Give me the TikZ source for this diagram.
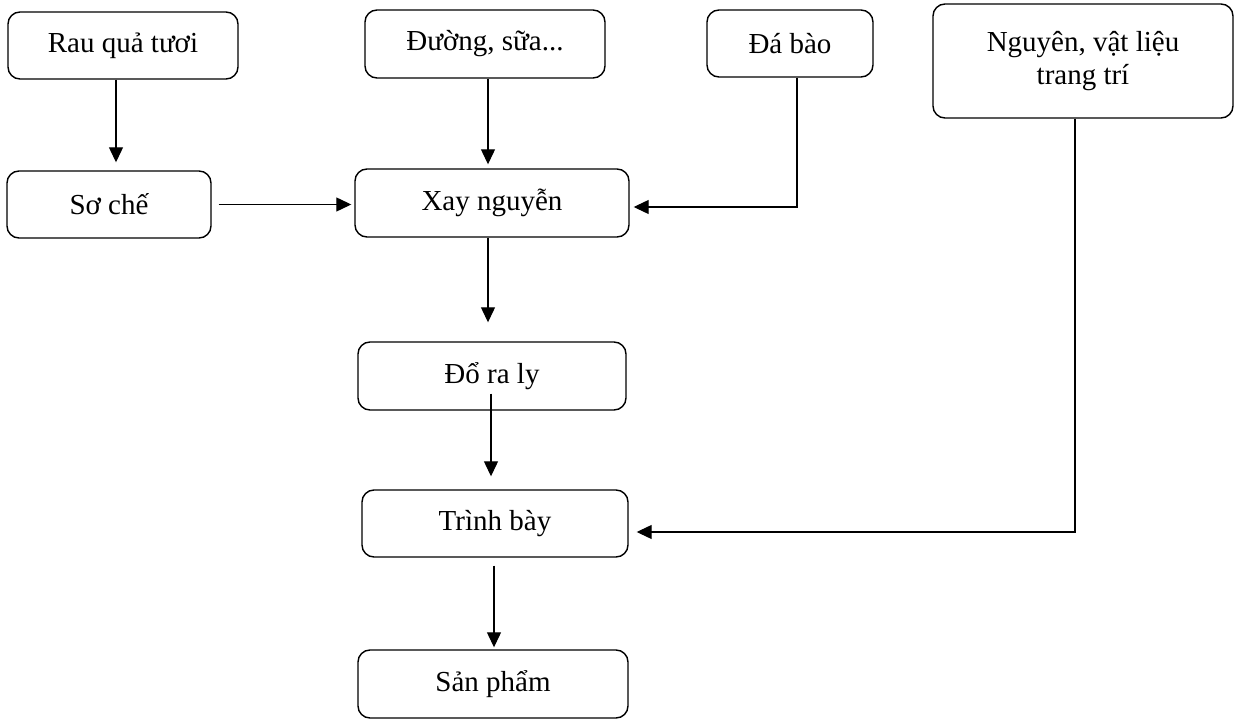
\documentclass[tikz,border=0pt]{standalone}
\usepackage{fontspec}
\setmainfont{Liberation Serif}
\usetikzlibrary{arrows.meta}

\begin{document}
\begin{tikzpicture}[x=0.2mm,y=-0.2mm,>={Triangle[length=3mm,width=2.8mm]},
  box/.style={draw,line width=0.8pt,rounded corners=2.4mm,align=center,
    font=\fontsize{16.5}{19}\selectfont},
  conn/.style={line width=0.7pt}]

\useasboundingbox (0,0) rectangle (1235,720);

% hang tren
\node[box,minimum width=46mm,minimum height=13.4mm] (rau) at (123,45.5) {Rau quả tươi};
\node[box,minimum width=48mm,minimum height=13.6mm] (duong) at (485,44) {Đường, sữa...};
\node[box,minimum width=33.2mm,minimum height=13.4mm] (da) at (790,43.5) {Đá bào};
\node[box,minimum width=60mm,minimum height=22.8mm] (nvl) at (1083,61) {Nguyên, vật liệu\\trang trí};

% hang giua
\node[box,minimum width=40.8mm,minimum height=13.4mm] (soche) at (109,204.5) {Sơ chế};
\node[box,minimum width=54.8mm,minimum height=13.6mm] (xay) at (492,203) {Xay nguyễn};

% cot chinh
\node[box,minimum width=53.6mm,minimum height=13.6mm] (doraly) at (492,376) {Đổ ra ly};
\node[box,minimum width=53.2mm,minimum height=13.4mm] (trinhbay) at (495,523.5) {Trình bày};
\node[box,minimum width=54mm,minimum height=13.6mm] (sanpham) at (493,684) {Sản phẩm};

% vao Xay nguyen
\draw[conn,->,shorten >=1.6mm] ([xshift=-1.4mm]rau.south) -- ([xshift=-1.4mm]rau.south |- soche.north);
\draw[conn,->,shorten <=1.4mm,shorten >=0.6mm] (soche.east) -- (soche.east -| xay.west);
\draw[conn,->,shorten >=0.8mm] ([xshift=0.6mm]duong.south) -- ([xshift=0.6mm]duong.south |- xay.north);
\draw[conn,->,shorten >=0.8mm] ([xshift=1.4mm]da.south) |- ([yshift=-0.8mm]xay.east);

% xuong duoi
\draw[conn,->,shorten >=3.8mm] ([xshift=-0.8mm]xay.south) -- ([xshift=-0.8mm]xay.south |- doraly.north);
\draw[conn,->,shorten <=-3.4mm,shorten >=2.6mm] ([xshift=-0.2mm]doraly.south) -- ([xshift=-0.2mm]doraly.south |- trinhbay.north);
\draw[conn,->,shorten <=1.6mm,shorten >=0.4mm] ([xshift=-0.2mm]trinhbay.south) -- ([xshift=-0.2mm]trinhbay.south |- sanpham.north);

% trang tri
\draw[conn,->,shorten >=1.6mm] ([xshift=-1.6mm]nvl.south) |- ([yshift=-1.7mm]trinhbay.east);

\end{tikzpicture}
\end{document}
